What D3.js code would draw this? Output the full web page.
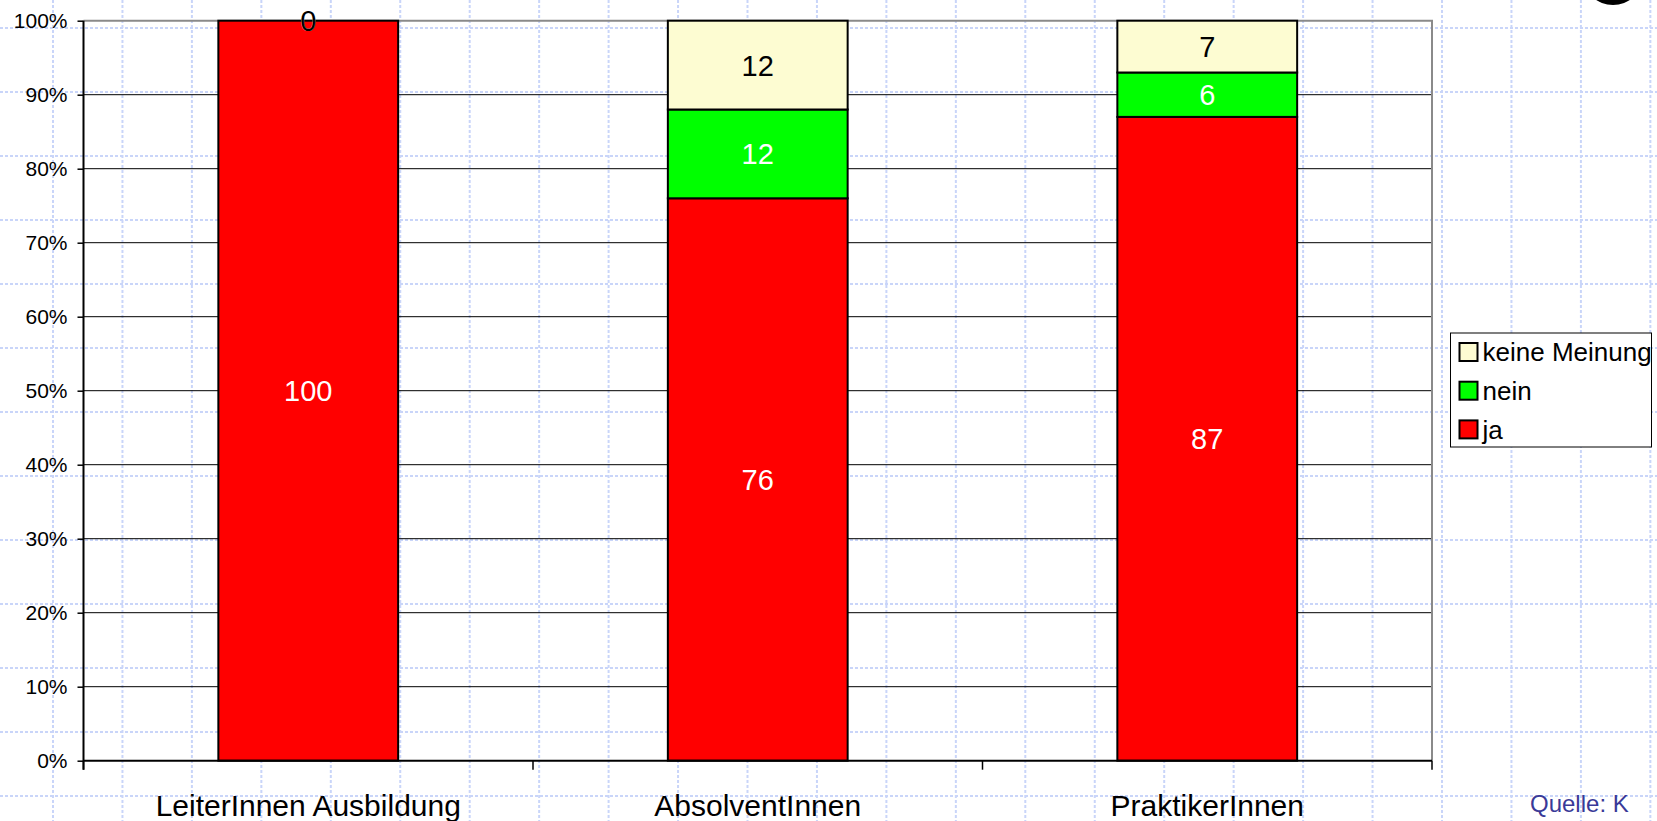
<!DOCTYPE html>
<html>
<head>
<meta charset="utf-8">
<script src="https://cdn.jsdelivr.net/npm/d3@7"></script>
<style>
  html, body { margin: 0; padding: 0; background: #fff; overflow: hidden; }
  svg { display: block; font-family: "Liberation Sans", Arial, sans-serif; }
</style>
</head>
<body>
<svg id="chart" width="1657" height="821"></svg>
<script>
// Survey answers per group, in percent
const categories = ["LeiterInnen Ausbildung", "AbsolventInnen", "PraktikerInnen"];
const seriesNames = ["ja", "nein", "keine Meinung"];
const ja = [100, 76, 87];
const nein = [0, 12, 6];
const keineMeinung = [0, 12, 7];
const yTicks = [0, 10, 20, 30, 40, 50, 60, 70, 80, 90, 100];
const sourceText = "Quelle: K";

const seriesColors = { "ja": "#ff0000", "nein": "#00ff00", "keine Meinung": "#fdfcd2" };
const labelColors = { "ja": "#ffffff", "nein": "#ffffff", "keine Meinung": "#000000" };

const W = 1657, H = 821;
const svg = d3.select("#chart");

// Dotted backdrop grid
const backdrop = svg.append("g").attr("class", "backdrop");
const gridColor = "#c9d5f9";
d3.range(28, H, 64).forEach(y => {
  backdrop.append("line").attr("x1", 0).attr("x2", W).attr("y1", y).attr("y2", y)
    .attr("stroke", gridColor).attr("stroke-width", 2).attr("stroke-dasharray", "3,2");
});
d3.range(53, W, 69.45).forEach(x => {
  backdrop.append("line").attr("x1", x).attr("x2", x).attr("y1", 0).attr("y2", H)
    .attr("stroke", gridColor).attr("stroke-width", 2).attr("stroke-dasharray", "3,2");
});

// Plot area
const plot = { left: 83.5, right: 1432, top: 20.7, bottom: 760.7 };

const x = d3.scaleBand()
  .domain(categories)
  .range([plot.left, plot.right])
  .paddingInner(0.6)
  .paddingOuter(0.3);

const y = d3.scaleLinear().domain([0, 100]).range([plot.bottom, plot.top]);

// Horizontal gridlines
svg.append("g")
  .selectAll("line")
  .data(yTicks.filter(t => t > 0 && t < 100))
  .join("line")
  .attr("x1", plot.left).attr("x2", plot.right)
  .attr("y1", d => y(d)).attr("y2", d => y(d))
  .attr("stroke", "#000").attr("stroke-width", 1);

// Plot border (top and right)
svg.append("path")
  .attr("d", `M${plot.left},${y(100)}H${plot.right}V${plot.bottom}`)
  .attr("fill", "none").attr("stroke", "#8a8a8a").attr("stroke-width", 2);

// Stacked bars
const rows = categories.map((c, i) => ({ category: c, "ja": ja[i], "nein": nein[i], "keine Meinung": keineMeinung[i] }));
const stacked = d3.stack().keys(seriesNames)(rows);

const barGroup = svg.append("g");
stacked.forEach(layer => {
  barGroup.append("g")
    .selectAll("rect")
    .data(layer)
    .join("rect")
    .attr("x", d => x(d.data.category))
    .attr("width", x.bandwidth())
    .attr("y", d => y(d[1]))
    .attr("height", d => y(d[0]) - y(d[1]))
    .attr("fill", seriesColors[layer.key])
    .attr("stroke", "#000")
    .attr("stroke-width", 2);
});

// Segment value labels
stacked.forEach(layer => {
  svg.append("g")
    .selectAll("text")
    .data(layer)
    .join("text")
    .attr("x", d => x(d.data.category) + x.bandwidth() / 2)
    .attr("y", d => y((d[0] + d[1]) / 2))
    .attr("dy", "0.36em")
    .attr("text-anchor", "middle")
    .attr("font-size", 29)
    .attr("fill", labelColors[layer.key])
    .text(d => d[1] - d[0]);
});

// Y axis
const yAxis = d3.axisLeft(y)
  .tickValues(yTicks)
  .tickSize(6)
  .tickPadding(10)
  .tickFormat(d => d + "%");
const yg = svg.append("g")
  .attr("transform", `translate(${plot.left},0)`)
  .call(yAxis);
yg.select(".domain").attr("d", `M0,${plot.top}V${plot.bottom + 9}`).attr("stroke", "#000").attr("stroke-width", 2);
yg.selectAll(".tick line").attr("stroke", "#000").attr("stroke-width", 1.5);
yg.selectAll(".tick text").attr("font-size", 21).attr("fill", "#000")
  .attr("font-family", "Liberation Sans, Arial, sans-serif");

// X axis with ticks at category boundaries
const xg = svg.append("g").attr("transform", `translate(0,${plot.bottom})`);
xg.append("line").attr("x1", plot.left).attr("x2", plot.right)
  .attr("stroke", "#000").attr("stroke-width", 2);
d3.range(categories.length + 1).forEach(i => {
  const bx = plot.left + i * (plot.right - plot.left) / categories.length;
  xg.append("line").attr("x1", bx).attr("x2", bx).attr("y1", 0).attr("y2", 9)
    .attr("stroke", "#000").attr("stroke-width", 1.5);
});
xg.selectAll("text.cat")
  .data(categories)
  .join("text")
  .attr("class", "cat")
  .attr("x", d => x(d) + x.bandwidth() / 2)
  .attr("y", 55)
  .attr("text-anchor", "middle")
  .attr("font-size", 30)
  .attr("fill", "#000")
  .text(d => d);

// Legend
const legend = svg.append("g").attr("transform", "translate(1450.5,333)");
legend.append("rect").attr("width", 201).attr("height", 114)
  .attr("fill", "#fff").attr("stroke", "#000").attr("stroke-width", 1);
const legendItems = seriesNames.slice().reverse();
const li = legend.selectAll("g.item")
  .data(legendItems)
  .join("g")
  .attr("class", "item")
  .attr("transform", (d, i) => `translate(9,${10 + i * 38.7})`);
li.append("rect").attr("width", 18).attr("height", 18)
  .attr("fill", d => seriesColors[d]).attr("stroke", "#000").attr("stroke-width", 2);
li.append("text").attr("x", 23).attr("y", 9).attr("dy", "0.36em")
  .attr("font-size", 26).attr("fill", "#000").text(d => d);

// Logo fragment at the top edge
svg.append("ellipse").attr("cx", 1613).attr("cy", -22).attr("rx", 29).attr("ry", 27).attr("fill", "#000");

// Source note
svg.append("text").attr("x", 1530).attr("y", 812)
  .attr("font-size", 24).attr("fill", "#3a3a98").text(sourceText);
</script>
</body>
</html>
